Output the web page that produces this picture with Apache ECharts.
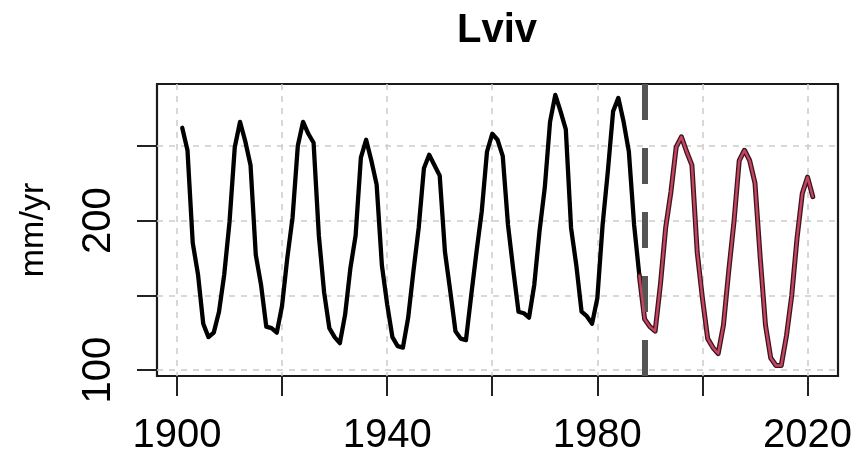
<!DOCTYPE html>
<html>
<head>
<meta charset="utf-8">
<script src="https://cdn.jsdelivr.net/npm/echarts@6/dist/echarts.min.js"></script>
<style>html,body{margin:0;padding:0;background:#fff}#c{width:857px;height:464px}</style>
</head>
<body>
<div id="c"></div>
<script>
const titleText = 'Lviv';
const yAxisTitle = 'mm/yr';

const histYears = [1901,1902,1903,1904,1905,1906,1907,1908,1909,1910,
  1911,1912,1913,1914,1915,1916,1917,1918,1919,1920,
  1921,1922,1923,1924,1925,1926,1927,1928,1929,1930,
  1931,1932,1933,1934,1935,1936,1937,1938,1939,1940,
  1941,1942,1943,1944,1945,1946,1947,1948,1949,1950,
  1951,1952,1953,1954,1955,1956,1957,1958,1959,1960,
  1961,1962,1963,1964,1965,1966,1967,1968,1969,1970,
  1971,1972,1973,1974,1975,1976,1977,1978,1979,1980,
  1981,1982,1983,1984,1985,1986,1987,1988];
const histValues = [262,247,185,164,131,122,125,139,164,199,
  249,266,253,237,177,157,129,128,125,143,
  175,202,250,266,258,252,190,152,128,122,
  118,137,168,190,242,254,240,224,170,144,
  122,116,115,135,166,195,235,244,237,230,
  179,153,126,121,120,150,179,206,246,258,
  254,243,197,167,139,138,135,157,193,222,
  266,284,273,261,195,170,139,136,131,148,
  197,233,273,282,266,246,197,163];

const recentYears = [1988,1989,1990,1991,1992,1993,1994,1995,1996,1997,
  1998,1999,2000,2001,2002,2003,2004,2005,2006,2007,
  2008,2009,2010,2011,2012,2013,2014,2015,2016,2017,
  2018,2019,2020,2021];
const recentValues = [163,134,129,126,157,195,219,249,256,246,
  237,179,148,121,115,111,130,166,199,240,
  247,240,225,175,130,108,103,103,123,150,
  188,218,229,216];

const breakYear = 1989;
const xTicks = [1900,1920,1940,1960,1980,2000,2020];
const xLabels = [1900,1940,1980,2020];
const yTicks = [100,150,200,250];
const yLabels = [100,200];

const FONT = 'Liberation Sans, Arial, Helvetica, sans-serif';
const pairs = (xs, ys) => xs.map((x, i) => [x, ys[i]]);

const chart = echarts.init(document.getElementById('c'), null, {renderer: 'canvas'});
chart.setOption({
  animation: false,
  backgroundColor: '#fff',
  graphic: [{
    type: 'text', x: 497, y: 31, z: 10,
    style: {text: titleText, font: 'bold 40px ' + FONT, fill: '#000',
      align: 'center', verticalAlign: 'middle', textAlign: 'center', textVerticalAlign: 'middle'}
  }],
  grid: {left: 157, right: 19, top: 84, bottom: 88, show: true,
    borderColor: '#1a1a1a', borderWidth: 2.2, backgroundColor: 'transparent'},
  xAxis: {
    type: 'value', min: 1896.2, max: 2025.8,
    axisLine: {show: false},
    axisTick: {show: true, length: 20, customValues: xTicks, lineStyle: {color: '#222', width: 2}},
    axisLabel: {show: true, customValues: xLabels, margin: 40, color: '#000',
      fontSize: 40, fontFamily: FONT, formatter: v => String(v)},
    splitLine: {show: true, lineStyle: {color: '#cccccc', width: 1.5, type: [6, 6]}}
  },
  yAxis: {
    type: 'value', min: 96, max: 291.3,
    name: yAxisTitle, nameLocation: 'middle', nameGap: 106, nameRotate: 90,
    nameTextStyle: {fontSize: 34, fontFamily: FONT, color: '#000'},
    axisLine: {show: false},
    axisTick: {show: true, length: 20, customValues: yTicks, lineStyle: {color: '#222', width: 2}},
    axisLabel: {show: true, customValues: yLabels, rotate: 90, margin: 38, color: '#000',
      fontSize: 40, fontFamily: FONT, formatter: v => String(v)},
    splitLine: {show: true, lineStyle: {color: '#cccccc', width: 1.5, type: [6, 6]}}
  },
  series: [
    {type: 'line', data: [], z: 1, silent: true,
      markLine: {silent: true, symbol: ['none', 'none'], label: {show: false},
        lineStyle: {color: '#555555', width: 6, type: [36, 28]},
        data: [{xAxis: breakYear}]}},
    {type: 'line', data: pairs(histYears, histValues), showSymbol: false, z: 3,
      lineStyle: {color: '#000', width: 4.3, join: 'round', cap: 'round'}},
    {type: 'line', data: pairs(recentYears, recentValues), showSymbol: false, z: 4,
      lineStyle: {color: '#3d1520', width: 5, join: 'round', cap: 'round'}},
    {type: 'line', data: pairs(recentYears, recentValues), showSymbol: false, z: 5,
      lineStyle: {color: '#c4455f', width: 2.4, join: 'round', cap: 'round'}}
  ]
});
</script>
</body>
</html>
